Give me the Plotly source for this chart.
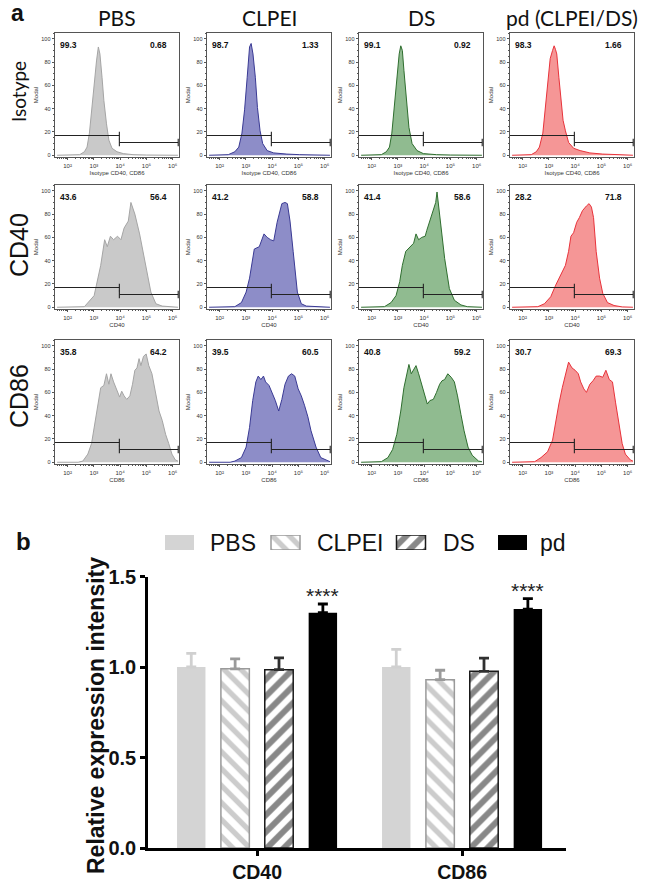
import plotly.graph_objects as go

W, H = 645, 884

# ---------------- panel a : flow cytometry histograms ----------------
GROUPS = ["PBS", "CLPEI", "DS", "pd (CLPEI/DS)"]
ROWS = ["Isotype", "CD40", "CD86"]
X_TITLES = ["Isotype CD40, CD86", "CD40", "CD86"]
X_TICK_TEXT = ["10²", "10³", "10⁴", "10⁵", "10⁶"]

# log10(intensity) sample points and modal (%) values
ISO_PBS_LX = [1.6, 2.3, 2.46, 2.64, 2.74, 2.83, 2.91, 3.01, 3.10, 3.17, 3.23, 3.31, 3.38, 3.48, 3.57, 3.69, 3.88, 4.12, 4.49, 5.0, 6.2]
ISO_PBS_Y = [0, 0, 0.5, 3, 7, 19, 39, 61, 81, 93, 87, 67, 47, 27, 13, 6, 3, 1.4, 0.5, 0.2, 0]
ISO_CLPEI_LX = [1.6, 2.2, 2.33, 2.58, 2.73, 2.85, 2.95, 3.05, 3.14, 3.20, 3.27, 3.36, 3.44, 3.54, 3.64, 3.81, 4.06, 4.56, 5.05, 6.2]
ISO_CLPEI_Y = [0, 0, 0.5, 3, 7, 19, 39, 67, 93, 96, 87, 67, 41, 21, 10, 4, 2, 1, 0.5, 0]
ISO_DS_LX = [1.6, 2.25, 2.37, 2.56, 2.68, 2.77, 2.86, 2.96, 3.05, 3.11, 3.17, 3.23, 3.32, 3.42, 3.54, 3.73, 3.97, 4.47, 5.0, 6.2]
ISO_DS_Y = [0, 0, 0.5, 3, 7, 19, 41, 67, 87, 94, 90, 73, 47, 24, 10, 4, 1.4, 0.5, 0.2, 0]
ISO_PD_LX = [1.6, 2.2, 2.33, 2.52, 2.64, 2.77, 2.85, 2.95, 3.05, 3.14, 3.20, 3.25, 3.30, 3.38, 3.47, 3.54, 3.63, 3.75, 3.94, 4.19, 4.56, 5.05, 5.67, 6.2]
ISO_PD_Y = [0, 0, 0.5, 3, 7, 19, 39, 61, 83, 90, 94, 91, 87, 67, 47, 30, 21, 11, 6, 4, 2, 1, 0.5, 0]

CD40_PBS_LX = [1.6, 2.4, 2.64, 3.01, 3.14, 3.26, 3.41, 3.51, 3.63, 3.75, 3.90, 4.03, 4.15, 4.31, 4.41, 4.56, 4.74, 4.99, 5.17, 5.36, 5.60, 6.2]
CD40_PBS_Y = [0, 0, 0.5, 10, 25, 36, 58, 52, 61, 58, 61, 58, 68, 74, 90, 80, 63, 34, 13, 3, 1, 0]
CD40_CLPEI_LX = [1.6, 2.4, 2.58, 2.83, 3.01, 3.14, 3.32, 3.51, 3.69, 3.81, 3.94, 4.06, 4.19, 4.37, 4.49, 4.58, 4.68, 4.80, 4.96, 5.11, 5.30, 6.2]
CD40_CLPEI_Y = [0, 0, 0.5, 4, 13, 25, 50, 52, 63, 60, 58, 57, 73, 89, 90, 89, 74, 48, 13, 3, 1, 0]
CD40_DS_LX = [1.6, 2.3, 2.49, 2.74, 2.93, 3.07, 3.17, 3.30, 3.48, 3.60, 3.69, 3.79, 3.91, 4.04, 4.10, 4.22, 4.35, 4.44, 4.49, 4.54, 4.62, 4.78, 4.96, 5.15, 5.40, 5.64, 6.2]
CD40_DS_Y = [0, 0, 0.5, 4, 10, 22, 36, 48, 52, 55, 63, 58, 60, 61, 66, 74, 83, 90, 99, 89, 70, 42, 16, 6, 2, 0.5, 0]
CD40_PD_LX = [1.6, 2.4, 2.58, 2.83, 3.07, 3.26, 3.44, 3.63, 3.75, 3.84, 3.94, 4.06, 4.16, 4.28, 4.43, 4.53, 4.62, 4.70, 4.80, 4.93, 5.05, 5.23, 5.48, 5.79, 6.2]
CD40_PD_Y = [0, 0, 0.5, 3, 9, 19, 28, 36, 48, 61, 64, 73, 77, 83, 87, 89, 86, 77, 48, 25, 12, 4, 1.5, 0.3, 0]

CD86_PBS_LX = [1.6, 2.4, 2.58, 2.77, 2.91, 3.05, 3.17, 3.26, 3.38, 3.48, 3.57, 3.65, 3.75, 3.85, 3.98, 4.06, 4.15, 4.25, 4.37, 4.47, 4.56, 4.64, 4.72, 4.79, 4.89, 4.99, 5.09, 5.21, 5.36, 5.48, 5.60, 5.73, 5.85, 5.97, 6.10, 6.2]
CD86_PBS_Y = [0, 0, 1, 7, 16, 36, 50, 64, 66, 76, 67, 76, 69, 64, 56, 61, 57, 54, 57, 67, 79, 81, 89, 83, 91, 93, 83, 76, 57, 44, 36, 24, 16, 7, 2, 1]
CD86_CLPEI_LX = [1.6, 2.4, 2.58, 2.83, 3.01, 3.14, 3.26, 3.38, 3.47, 3.57, 3.67, 3.75, 3.88, 4.00, 4.12, 4.25, 4.37, 4.49, 4.62, 4.74, 4.86, 4.99, 5.11, 5.23, 5.36, 5.48, 5.67, 5.85, 6.10, 6.2]
CD86_CLPEI_Y = [0, 0, 1, 4, 13, 30, 53, 69, 74, 71, 74, 69, 66, 60, 53, 44, 54, 67, 74, 76, 74, 63, 57, 49, 39, 27, 13, 4, 1, 0.5]
CD86_DS_LX = [1.6, 2.2, 2.37, 2.62, 2.80, 2.96, 3.11, 3.23, 3.33, 3.42, 3.51, 3.60, 3.69, 3.79, 3.91, 4.04, 4.12, 4.22, 4.35, 4.47, 4.59, 4.68, 4.78, 4.90, 5.03, 5.15, 5.27, 5.40, 5.52, 5.67, 5.83, 6.07, 6.2]
CD86_DS_Y = [0, 0, 0.5, 4, 11, 24, 44, 64, 74, 84, 76, 79, 83, 76, 67, 56, 50, 53, 54, 60, 67, 70, 71, 76, 73, 69, 57, 41, 27, 13, 6, 1, 0.5]
CD86_PD_LX = [1.6, 2.3, 2.46, 2.70, 2.95, 3.14, 3.26, 3.38, 3.51, 3.63, 3.75, 3.88, 4.00, 4.12, 4.21, 4.33, 4.43, 4.56, 4.68, 4.80, 4.93, 5.05, 5.17, 5.30, 5.42, 5.54, 5.67, 5.79, 5.91, 6.10, 6.2]
CD86_PD_Y = [0, 0, 0.5, 4, 9, 19, 36, 50, 64, 76, 86, 81, 79, 76, 69, 63, 60, 67, 70, 74, 74, 73, 79, 71, 69, 51, 33, 16, 7, 2, 1]

LEFT_PCT = [["99.3", "98.7", "99.1", "98.3"],
            ["43.6", "41.2", "41.4", "28.2"],
            ["35.8", "39.5", "40.8", "30.7"]]
RIGHT_PCT = [["0.68", "1.33", "0.92", "1.66"],
             ["56.4", "58.8", "58.6", "71.8"],
             ["64.2", "60.5", "59.2", "69.3"]]

GATE_SPLIT_LOG = 3.97
LEFT_GATE_LEVEL = 17
RIGHT_GATE_LEVEL = 11

HIST = [
    [(ISO_PBS_LX, ISO_PBS_Y), (ISO_CLPEI_LX, ISO_CLPEI_Y), (ISO_DS_LX, ISO_DS_Y), (ISO_PD_LX, ISO_PD_Y)],
    [(CD40_PBS_LX, CD40_PBS_Y), (CD40_CLPEI_LX, CD40_CLPEI_Y), (CD40_DS_LX, CD40_DS_Y), (CD40_PD_LX, CD40_PD_Y)],
    [(CD86_PBS_LX, CD86_PBS_Y), (CD86_CLPEI_LX, CD86_CLPEI_Y), (CD86_DS_LX, CD86_DS_Y), (CD86_PD_LX, CD86_PD_Y)],
]

FILL = ["#c9c9c9", "#8d8dc8", "#90bb90", "#f59696"]
EDGE = ["#a5a5a5", "#3a3a94", "#2f6e2f", "#e8333b"]

# ---------------- panel b : bar chart ----------------
MARKERS = ["CD40", "CD86"]
BAR_NAMES = ["PBS", "CLPEI", "DS", "pd"]
PBS_MEAN = [1.00, 1.00]
PBS_ERR = [0.075, 0.097]
CLPEI_MEAN = [0.99, 0.93]
CLPEI_ERR = [0.055, 0.052]
DS_MEAN = [0.985, 0.976]
DS_ERR = [0.065, 0.073]
PD_MEAN = [1.30, 1.32]
PD_ERR = [0.048, 0.058]
SIGNIF = ["****", "****"]

# ---------------- layout constants (pixels) ----------------
COL_LEFT = [55, 207, 359, 510]
ROW_TOP = [33, 185, 340]
PW, PH = 124, 124
XR_LOG = [1.52, 6.24]
YR = [-1.5, 105]

def xd(px0, px1):
    return [px0 / W, px1 / W]

def yd(top, bottom):
    return [1 - bottom / H, 1 - top / H]

fig = go.Figure()
layout = dict(width=W, height=H, margin=dict(l=0, r=0, t=0, b=0, autoexpand=False),
              paper_bgcolor="white", plot_bgcolor="white", showlegend=False,
              barmode="group", bargap=0.144, bargroupgap=0.352)
annotations = []

SANS = "Liberation Sans, Arial"
tiny = dict(family=SANS, size=6, color="#333")
major_x = [10 ** d for d in range(2, 7)]
minor_x = [k * 10 ** d for d in range(1, 7) for k in range(2, 10)]

idx = 0
for r in range(3):
    for c in range(4):
        idx += 1
        xa = "x" if idx == 1 else f"x{idx}"
        ya = "y" if idx == 1 else f"y{idx}"
        lx, yv = HIST[r][c]
        fig.add_trace(go.Scatter(
            x=[10 ** v for v in lx], y=yv, xaxis=xa, yaxis=ya, mode="lines",
            line=dict(color=EDGE[c], width=1), fill="tozeroy", fillcolor=FILL[c],
            hoverinfo="skip"))
        xs = 10 ** GATE_SPLIT_LOG
        xmin = 10 ** XR_LOG[0]
        xmax = 10 ** (XR_LOG[1] - 0.03)
        fig.add_trace(go.Scatter(
            x=[xmin, xs, None, xs, xs], y=[LEFT_GATE_LEVEL, LEFT_GATE_LEVEL, None,
                                          LEFT_GATE_LEVEL - 3.2, LEFT_GATE_LEVEL + 3.2],
            xaxis=xa, yaxis=ya, mode="lines", line=dict(color="#222", width=1.1),
            hoverinfo="skip", cliponaxis=False))
        fig.add_trace(go.Scatter(
            x=[xs, xmax, None, xs, xs, None, xmax, xmax],
            y=[RIGHT_GATE_LEVEL, RIGHT_GATE_LEVEL, None, RIGHT_GATE_LEVEL - 3.2, RIGHT_GATE_LEVEL + 3.2,
               None, RIGHT_GATE_LEVEL - 3.2, RIGHT_GATE_LEVEL + 3.2],
            xaxis=xa, yaxis=ya, mode="lines", line=dict(color="#222", width=1.1),
            hoverinfo="skip", cliponaxis=False))
        L = COL_LEFT[c]
        T = ROW_TOP[r]
        key = "xaxis" if idx == 1 else f"xaxis{idx}"
        keyy = "yaxis" if idx == 1 else f"yaxis{idx}"
        layout[key] = dict(
            domain=xd(L, L + PW), anchor=ya, type="log", range=XR_LOG, automargin=False,
            showline=True, mirror=True, linecolor="#555", linewidth=0.8,
            showgrid=False, zeroline=False, ticks="outside", ticklen=2.5, tickwidth=0.6,
            tickcolor="#555", tickmode="array", tickvals=major_x, ticktext=X_TICK_TEXT,
            tickfont=tiny,
            minor=dict(tickmode="array", tickvals=minor_x, ticks="outside", ticklen=1.3,
                       tickwidth=0.5, tickcolor="#555"),
            title=dict(text=X_TITLES[r], font=dict(family=SANS, size=6, color="#333"), standoff=3))
        layout[keyy] = dict(
            domain=yd(T, T + PH), anchor=xa, range=YR, automargin=False,
            showline=True, mirror=True, linecolor="#555", linewidth=0.8,
            showgrid=False, zeroline=False, ticks="outside", ticklen=2.5, tickwidth=0.6,
            tickcolor="#555", tickmode="array", tickvals=[0, 20, 40, 60, 80, 100],
            tickfont=dict(family=SANS, size=5.5, color="#333"),
            minor=dict(dtick=5, ticks="outside", ticklen=1.2, tickwidth=0.5, tickcolor="#555"),
            title=dict(text="Modal", font=dict(family=SANS, size=6, color="#333"), standoff=2))
        dref = "x domain" if idx == 1 else f"x{idx} domain"
        dyref = "y domain" if idx == 1 else f"y{idx} domain"
        pfont = dict(family=SANS, size=8.5, color="#111", weight="bold")
        annotations.append(dict(text=LEFT_PCT[r][c], xref=dref, yref=dyref, x=0.025, y=0.905,
                                xanchor="left", yanchor="middle", showarrow=False, font=pfont))
        annotations.append(dict(text=RIGHT_PCT[r][c], xref=dref, yref=dyref, x=0.92, y=0.905,
                                xanchor="right", yanchor="middle", showarrow=False, font=pfont))

# column titles and row labels
for c, g in enumerate(GROUPS):
    annotations.append(dict(text=g, xref="paper", yref="paper", x=(COL_LEFT[c] + PW / 2) / W,
                            y=1 - 17 / H, xanchor="center", yanchor="middle", showarrow=False,
                            font=dict(family="Lato, Carlito, Calibri", size=21, color="#111")))
ROW_CENTER_PX = [92, 245, 396]
for r, lab in enumerate(ROWS):
    fnt = dict(family="Lato, Carlito, Calibri", size=19, color="#111") if r == 0 else \
        dict(family=SANS, size=25, color="#111")
    annotations.append(dict(text=lab, xref="paper", yref="paper", x=19 / W, y=1 - ROW_CENTER_PX[r] / H,
                            xanchor="center", yanchor="middle", textangle=-90, showarrow=False, font=fnt))
annotations.append(dict(text="a", xref="paper", yref="paper", x=9 / W, y=1 - 13 / H, xanchor="left",
                        yanchor="middle", showarrow=False,
                        font=dict(family=SANS, size=23, color="#111", weight="bold")))
annotations.append(dict(text="b", xref="paper", yref="paper", x=14 / W, y=1 - 541 / H, xanchor="left",
                        yanchor="middle", showarrow=False,
                        font=dict(family=SANS, size=24, color="#111", weight="bold")))

# ---------------- bar chart ----------------
bar_means = [PBS_MEAN, CLPEI_MEAN, DS_MEAN, PD_MEAN]
bar_errs = [PBS_ERR, CLPEI_ERR, DS_ERR, PD_ERR]
bar_styles = [
    dict(color="#d4d4d4", line=dict(width=0, color="#d4d4d4")),
    dict(color="white", line=dict(width=1.5, color="#9a9a9a"),
         pattern=dict(shape="\\", fgcolor="#9a9a9a", bgcolor="white", size=12, solidity=0.45, fillmode="overlay")),
    dict(color="white", line=dict(width=1.5, color="#1a1a1a"),
         pattern=dict(shape="/", fgcolor="#111111", bgcolor="white", size=12, solidity=0.5, fillmode="overlay")),
    dict(color="#000000", line=dict(width=0, color="#000")),
]
err_colors = ["#d0d0d0", "#9a9a9a", "#303030", "#000000"]
for i, name in enumerate(BAR_NAMES):
    fig.add_trace(go.Bar(
        x=MARKERS, y=bar_means[i], name=name, xaxis="x13", yaxis="y13",
        marker=bar_styles[i],
        error_y=dict(type="data", symmetric=False, array=bar_errs[i], arrayminus=[0, 0],
                     color=err_colors[i], thickness=2.8, width=5),
        hoverinfo="skip"))

layout["xaxis13"] = dict(
    domain=xd(148, 566), anchor="y13", type="category", range=[-0.532, 1.507], automargin=False,
    showline=True, linecolor="#000", linewidth=2.6, ticks="outside", ticklen=5, tickwidth=2.6,
    tickcolor="#000", showgrid=False, zeroline=False, ticklabelstandoff=0,
    tickfont=dict(family=SANS, size=19.5, color="#111", weight="bold"))
layout["yaxis13"] = dict(
    domain=yd(576.5, 848), anchor="x13", range=[0, 1.5], tickmode="array", automargin=False,
    tickvals=[0, 0.5, 1.0, 1.5], ticktext=["0.0", "0.5", "1.0", "1.5"],
    showline=True, linecolor="#000", linewidth=2.6, ticks="outside", ticklen=5, tickwidth=2.6,
    tickcolor="#000", showgrid=False, zeroline=False,
    tickfont=dict(family=SANS, size=20, color="#111", weight="bold"))
annotations.append(dict(text="Relative expression intensity", xref="paper", yref="paper",
                        x=96 / W, y=1 - 716 / H, xanchor="center", yanchor="middle", textangle=-90,
                        showarrow=False,
                        font=dict(family=SANS, size=23, color="#111", weight="bold")))

# significance stars above the pd bars
slot = (1 - 0.144) / 4
for k, m in enumerate(MARKERS):
    annotations.append(dict(text=SIGNIF[k], xref="x13", yref="y13", x=k + 1.5 * slot,
                            y=PD_MEAN[k] + PD_ERR[k] + 0.045, xanchor="center", yanchor="middle",
                            showarrow=False,
                            font=dict(family=SANS, size=21, color="#222")))

# custom legend (swatches drawn as bars on a hidden pixel-scaled axis)
LEG_SWATCH_PX = [179.5, 285.5, 411, 512.5]
LEG_TEXT_PX = [208, 315, 441, 538]
for i, name in enumerate(BAR_NAMES):
    st = dict(bar_styles[i])
    fig.add_trace(go.Bar(x=[LEG_SWATCH_PX[i]], y=[1], base=0, width=29, offset=-14.5,
                         xaxis="x14", yaxis="y14", marker=st, hoverinfo="skip"))
    annotations.append(dict(text=name, xref="paper", yref="paper", x=LEG_TEXT_PX[i] / W,
                            y=1 - 543 / H, xanchor="left", yanchor="middle", showarrow=False,
                            font=dict(family=SANS, size=23, color="#111")))
layout["xaxis14"] = dict(domain=[0, 1], anchor="y14", range=[0, W], visible=False)
layout["yaxis14"] = dict(domain=yd(535, 550), anchor="x14", range=[0, 1], visible=False)

layout["annotations"] = annotations
fig.update_layout(**layout)
fig.write_html("out.html", config={"displayModeBar": False},
               post_script="document.body.style.margin='0';document.body.style.overflow='hidden';")
